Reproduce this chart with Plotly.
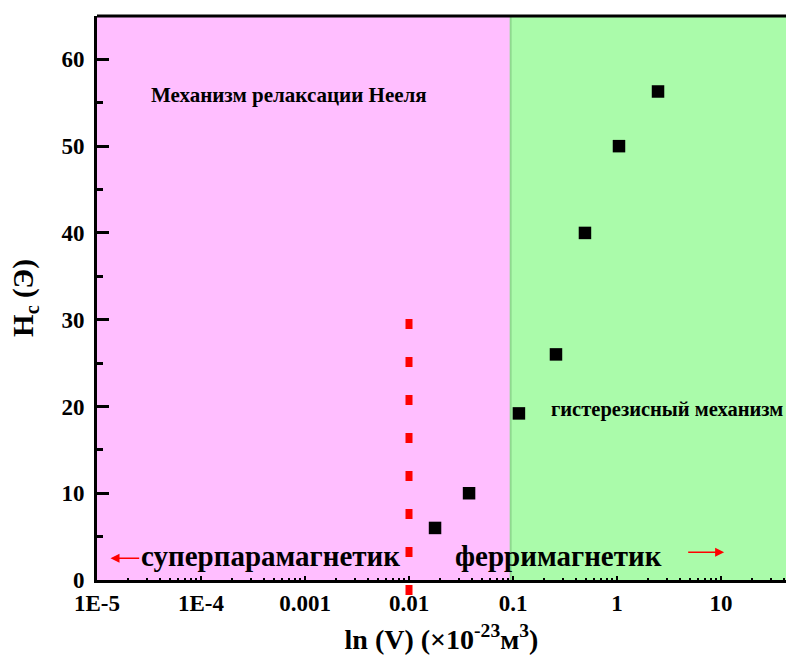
import plotly.graph_objects as go

# ---- data ----
volume = [0.0178, 0.0378, 0.114, 0.259, 0.492, 1.045, 2.48]
hc = [6.0, 10.0, 19.2, 26.0, 40.0, 50.0, 56.3]

x_tickvals = [1e-5, 1e-4, 1e-3, 1e-2, 1e-1, 1, 10]
x_ticktext = ["1E-5", "1E-4", "0.001", "0.01", "0.1", "1", "10"]
y_tickvals = [0, 10, 20, 30, 40, 50, 60]

x_range_log = [-5, 1.625]
y_range = [0, 65]

boundary_x = 0.095       # superparamagnetic / ferrimagnetic border
critical_x = 0.01        # red dashed line
critical_y = [-1.73, 30.1]

FONT = "Times New Roman, Liberation Serif, DejaVu Serif, serif"
PINK = "#FFBEFF"
GREEN = "#AAFBAA"

fig = go.Figure()

fig.add_trace(go.Scatter(
    x=volume, y=hc, mode="markers",
    marker=dict(symbol="square", size=12.5, color="black"),
    showlegend=False, cliponaxis=False,
))

# background regions
fig.add_shape(type="rect", xref="x", yref="paper", x0=10**x_range_log[0], x1=boundary_x,
              y0=0, y1=1, fillcolor=PINK, line_width=0, layer="below")
fig.add_shape(type="rect", xref="x", yref="paper", x0=boundary_x, x1=10**x_range_log[1],
              y0=0, y1=1, fillcolor=GREEN, line_width=0, layer="below")
fig.add_shape(type="line", xref="x", yref="paper", x0=boundary_x, x1=boundary_x,
              y0=0, y1=1, line=dict(color="#8FD98F", width=2), layer="below")

# red dashed line
fig.add_shape(type="line", xref="x", yref="paper", x0=critical_x, x1=critical_x,
              y0=critical_y[0] / y_range[1], y1=critical_y[1] / y_range[1],
              line=dict(color="#FF0000", width=7, dash="10px,28px"))

# top border
fig.add_shape(type="line", xref="paper", yref="paper", x0=0, x1=1, y0=1, y1=1,
              line=dict(color="black", width=3))

bold = dict(family=FONT, color="black", weight="bold")

fig.add_annotation(x=-4.5, y=55.85, xref="x", yref="y", text="Механизм релаксации Нееля",
                   showarrow=False, xanchor="left", yanchor="middle", font=dict(size=21, **bold))
fig.add_annotation(x=-0.654, y=19.6, xref="x", yref="y", text="гистерезисный механизм",
                   showarrow=False, xanchor="left", yanchor="middle", font=dict(size=20.5, **bold))
fig.add_annotation(x=-4.6, y=2.8, xref="x", yref="y", text="суперпарамагнетик",
                   showarrow=False, xanchor="left", yanchor="middle", font=dict(size=29, **bold))
fig.add_annotation(x=-1.577, y=2.8, xref="x", yref="y", text="ферримагнетик",
                   showarrow=False, xanchor="left", yanchor="middle", font=dict(size=29, **bold))

# red arrows
fig.add_annotation(x=-4.87, y=2.5, ax=-4.58, ay=2.5, xref="x", yref="y", axref="x", ayref="y",
                   text="", showarrow=True, arrowhead=2, arrowsize=1.2, arrowwidth=1.5, arrowcolor="red")
fig.add_annotation(x=1.03, y=3.2, ax=0.67, ay=3.2, xref="x", yref="y", axref="x", ayref="y",
                   text="", showarrow=True, arrowhead=2, arrowsize=1.2, arrowwidth=1.5, arrowcolor="red")

fig.update_xaxes(
    type="log", range=x_range_log, tickvals=x_tickvals, ticktext=x_ticktext,
    ticks="inside", ticklen=4, tickwidth=2, tickcolor="black",
    minor=dict(ticks="inside", ticklen=2, tickwidth=1.5, tickcolor="black",
               tickvals=[m * 10**e for e in range(-5, 2) for m in range(2, 10)]),
    showline=True, linewidth=3, linecolor="black", showgrid=False, zeroline=False,
    tickfont=dict(size=23, **bold),
    title=dict(text="ln (V) (×10<sup>-23</sup>м<sup>3</sup>)", font=dict(size=28, **bold), standoff=16),
)
fig.update_yaxes(
    range=y_range, tickvals=y_tickvals,
    ticks="inside", ticklen=12, tickwidth=3, tickcolor="black",
    minor=dict(ticks="inside", ticklen=6, tickwidth=3, tickcolor="black", dtick=5),
    showline=True, linewidth=3, linecolor="black", showgrid=False, zeroline=False,
    tickfont=dict(size=23, **bold), ticklabelstandoff=5,
    title=dict(text="H<sub>c</sub> (Э)", font=dict(size=29, **bold), standoff=20),
)

fig.update_layout(
    width=786, height=655,
    margin=dict(l=97, r=0, t=16, b=75),
    paper_bgcolor="white", plot_bgcolor=GREEN,
    showlegend=False,
)

fig.write_html("out.html")
